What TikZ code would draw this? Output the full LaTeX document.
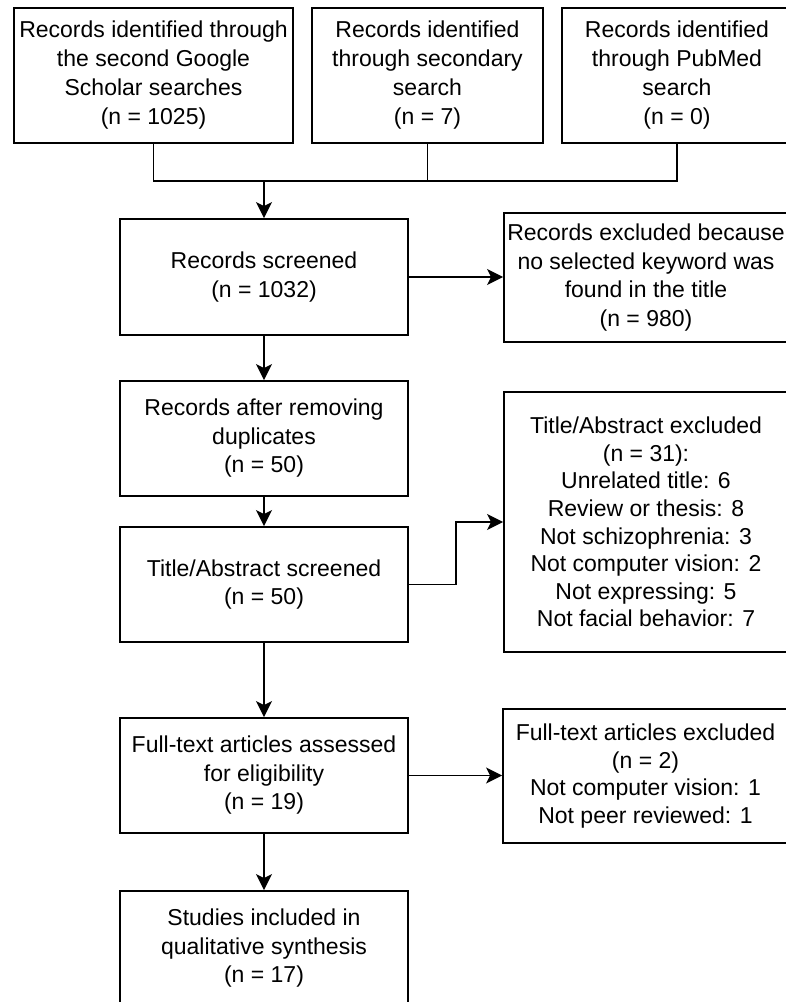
\documentclass[tikz,border=0pt]{standalone}
\usepackage{fontspec}
\setmainfont{Liberation Sans}
\usetikzlibrary{arrows.meta}
\begin{document}
\begin{tikzpicture}[x=1pt,y=-1pt,
  box/.style={draw=black, line width=1.8pt, inner sep=0pt, align=center,
    font=\fontsize{23}{28.5}\selectfont},
  topbox/.style={box, minimum height=135pt, font=\fontsize{23}{29}\selectfont},
  mainbox/.style={box, minimum width=288pt, minimum height=115pt},
  conn/.style={line width=1.8pt},
  arr/.style={conn, -{Stealth[length=16pt,width=16pt,inset=4pt]}}]
\useasboundingbox (0,0) rectangle (786,1002);
\fill[white] (0,0) rectangle (786,1002);
% top sources
\node[topbox, minimum width=279pt] (s1) at (153.5,75.5) {Records identified through\\the second Google\\Scholar searches\\(n = 1025)};
\node[topbox, minimum width=231pt] (s2) at (427.5,75.5) {Records identified\\through secondary\\search\\(n = 7)};
\node[topbox, minimum width=230pt] (s3) at (677,75.5) {Records identified\\through PubMed\\search\\(n = 0)};
% main column
\node[mainbox, minimum height=116pt] (scr) at (264,277) {Records screened\\(n = 1032)};
\node[mainbox] (dup) at (264,438.5) {Records after removing\\duplicates\\(n = 50)};
\node[mainbox] (tas) at (264,584.5) {Title/Abstract screened\\(n = 50)};
\node[mainbox] (ft) at (264,775.5) {Full-text articles assessed\\for eligibility\\(n = 19)};
\node[mainbox] (inc) at (264,948.5) {Studies included in\\qualitative synthesis\\(n = 17)};
% exclusions
\node[box, minimum width=284pt, minimum height=129pt] (ex1) at (646,277.5) {Records excluded because\\no selected keyword was\\found in the title\\(n = 980)};
\node[box, minimum width=284pt, minimum height=260pt, font=\fontsize{23}{27.6}\selectfont] (ex2) at (646,522) {Title/Abstract excluded\\(n = 31):\\Unrelated title: 6\\Review or thesis: 8\\Not schizophrenia: 3\\Not computer vision: 2\\Not expressing: 5\\Not facial behavior: 7};
\node[box, minimum width=285pt, minimum height=134pt, font=\fontsize{23}{27.7}\selectfont] (ex3) at (645.5,776) {Full-text articles excluded\\(n = 2)\\Not computer vision: 1\\Not peer reviewed: 1};
% connectors
\coordinate (mL) at (153.5,181);
\coordinate (mR) at (677,181);
\coordinate (mC) at (427.5,181);
\coordinate (mM) at (264,181);
\draw[conn] (s1.south) -- (mL) -- (mR) -- (s3.south);
\draw[conn] (s2.south) -- (mC);
\draw[arr] (mM) -- (scr.north);
\draw[arr] (scr.east) -- (scr.east -| ex1.west);
\draw[arr] (scr.south) -- (dup.north);
\draw[arr] (dup.south) -- (tas.north);
\coordinate (elb) at (456,584.5);
\draw[arr] (tas.east) -- (elb) |- (ex2.west);
\draw[arr] (tas.south) -- (ft.north);
\draw[arr] (ft.east) -- (ft.east -| ex3.west);
\draw[arr] (ft.south) -- (inc.north);
\end{tikzpicture}
\end{document}
